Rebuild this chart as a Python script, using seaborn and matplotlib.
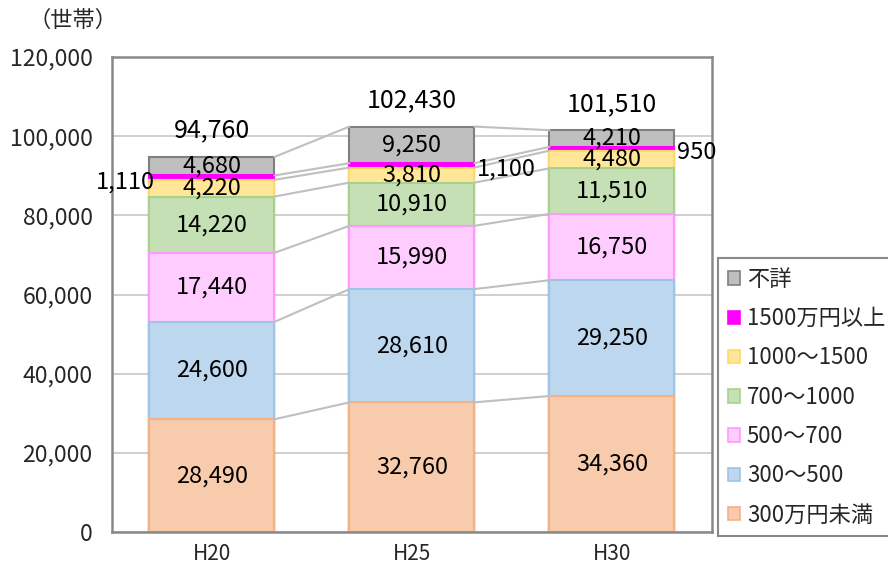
import pandas as pd
import seaborn as sns
import matplotlib.pyplot as plt
from matplotlib.patches import Patch
from matplotlib.ticker import FuncFormatter

# Data (households by income band)
years = ["H20", "H25", "H30"]
bands = ["300万円未満", "300～500", "500～700", "700～1000", "1000～1500", "1500万円以上", "不詳"]
v_under300 = [28490, 32760, 34360]
v_300_500 = [24600, 28610, 29250]
v_500_700 = [17440, 15990, 16750]
v_700_1000 = [14220, 10910, 11510]
v_1000_1500 = [4220, 3810, 4480]
v_over1500 = [1110, 1100, 950]
v_unknown = [4680, 9250, 4210]

series = [v_under300, v_300_500, v_500_700, v_700_1000, v_1000_1500, v_over1500, v_unknown]

fills = ["#F8CBAD", "#BDD7EE", "#FFCCFF", "#C5E0B4", "#FFE699", "#FF00FF", "#BFBFBF"]
edges = ["#F4B183", "#9DC3E6", "#FF99FF", "#A9D18E", "#FFD966", "#FF00FF", "#7F7F7F"]

# cumulative tops / bottoms
tops, bottoms = [], []
run = [0] * len(years)
for s in series:
    bottoms.append(run[:])
    run = [a + b for a, b in zip(run, s)]
    tops.append(run[:])
totals = run

rows = []
for b, t in zip(bands, tops):
    for y, v in zip(years, t):
        rows.append({"年": y, "区分": b, "累計": v})
df = pd.DataFrame(rows)

sns.set_theme(style="white")
plt.rcParams["font.family"] = ["Noto Sans CJK JP", "DejaVu Sans"]

fig = plt.figure(figsize=(8.88, 5.69), dpi=100)
ax = fig.add_axes([0.1261, 0.065, 0.6757, 0.8348])

bar_w = 0.625
hue_order = bands[::-1]
sns.barplot(
    data=df, x="年", y="累計", hue="区分", hue_order=hue_order,
    order=years, dodge=False, palette=dict(zip(bands, fills)),
    width=bar_w, saturation=1, legend=False, ax=ax,
)
for cont, b in zip(ax.containers, hue_order):
    ec = edges[bands.index(b)]
    for p in cont:
        p.set_edgecolor(ec)
        p.set_linewidth(1.5)

# connector lines between bars
for t in tops:
    for i in range(len(years) - 1):
        ax.plot([i + bar_w / 2, i + 1 - bar_w / 2], [t[i], t[i + 1]],
                color="#BFBFBF", lw=1.5, zorder=1)

# segment labels
fs = 17
for k, s in enumerate(series):
    for i, v in enumerate(s):
        mid = bottoms[k][i] + v / 2
        if bands[k] == "1500万円以上":
            if i == 0:
                ax.annotate(f"{v:,}", (i - bar_w / 2, mid), xytext=(4, -3),
                            textcoords="offset points", ha="right", va="center",
                            fontsize=fs, color="black", zorder=5)
            else:
                ax.annotate(f"{v:,}", (i + bar_w / 2, mid), xytext=(2, -3),
                            textcoords="offset points", ha="left", va="center",
                            fontsize=fs, color="black", zorder=5)
        else:
            ax.text(i, mid, f"{v:,}", ha="center", va="center",
                    fontsize=fs, color="black", zorder=5)

# totals
for i, t in enumerate(totals):
    ax.annotate(f"{t:,}", (i, t), xytext=(0, 19), textcoords="offset points",
                ha="center", va="center", fontsize=18, color="black")

ax.set_ylim(0, 120000)
ax.set_xlim(-0.5, 2.5)
ax.set_yticks(range(0, 120001, 20000))
ax.yaxis.set_major_formatter(FuncFormatter(lambda v, p: f"{int(v):,}"))
ax.tick_params(axis="y", length=0, pad=14, labelsize=16.5)
ax.tick_params(axis="x", length=0, pad=8, labelsize=15)
ax.set_xlabel("")
ax.set_ylabel("")

ax.grid(True, axis="y", color="#C8C8C8", lw=1.2)
ax.grid(False, axis="x")
ax.set_axisbelow(True)
for sp in ax.spines.values():
    sp.set_visible(True)
    sp.set_color("#898989")
    sp.set_linewidth(1.8)

fig.text(28 / 888, 1 - 20 / 569, "（世帯）", ha="left", va="center", fontsize=16)

handles = [Patch(facecolor=fills[bands.index(b)], edgecolor=edges[bands.index(b)], lw=1.2)
           for b in hue_order]
leg = fig.legend(handles, hue_order, loc="upper left",
                 bbox_to_anchor=(718 / 888, 1 - 258 / 569), fontsize=16,
                 frameon=True, fancybox=False, framealpha=1, edgecolor="#898989",
                 handlelength=0.55, handleheight=0.55, handletextpad=0.3,
                 labelspacing=0.73, borderpad=0.45, borderaxespad=0)
leg.get_frame().set_linewidth(1.5)

fig.savefig("out.png", dpi=100)
